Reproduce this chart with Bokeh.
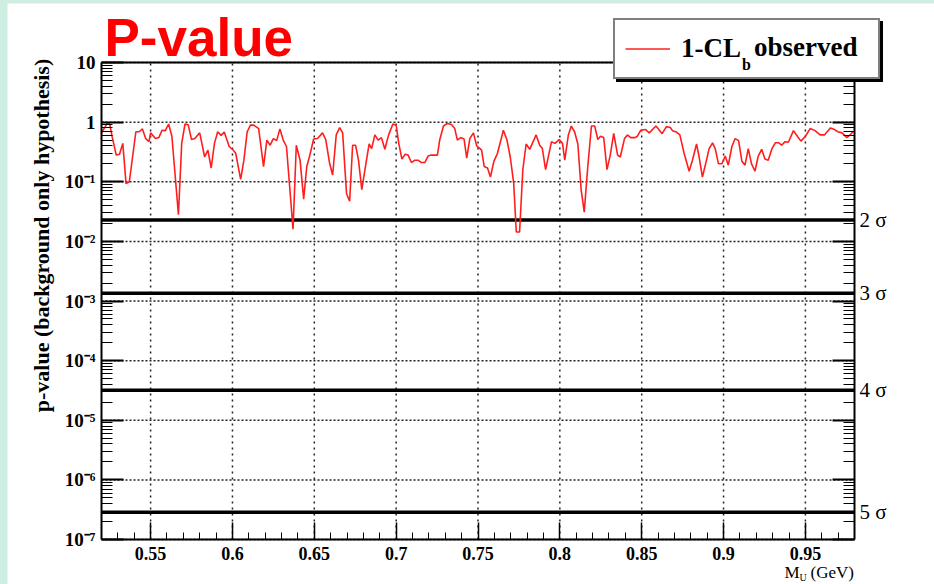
import math
from bokeh.plotting import figure
from bokeh.models import FixedTicker, LogAxis, LinearAxis, Label, Legend, LegendItem, Range1d
from bokeh.layouts import column
from bokeh.embed import file_html
from bokeh.resources import INLINE

# ---- data ----
m_u = [0.520, 0.5235, 0.525, 0.5265, 0.529, 0.531, 0.533, 0.535, 0.537, 0.541, 0.543, 0.545, 0.547,
       0.549, 0.550, 0.553, 0.555, 0.557, 0.559, 0.561, 0.563, 0.567, 0.569, 0.571, 0.573, 0.575,
       0.577, 0.580, 0.583, 0.585, 0.587, 0.589, 0.591, 0.593, 0.595, 0.598, 0.600, 0.602, 0.605,
       0.607, 0.609, 0.611, 0.613, 0.616, 0.619, 0.621, 0.623, 0.625, 0.627, 0.629, 0.631, 0.633,
       0.637, 0.639, 0.6413, 0.6435, 0.6454, 0.647, 0.6496, 0.652, 0.655, 0.657, 0.6594, 0.6612,
       0.6634, 0.6655, 0.6673, 0.6697, 0.6716, 0.6734, 0.6752, 0.677, 0.679, 0.6815, 0.6835, 0.685,
       0.687, 0.689, 0.691, 0.6931, 0.6953, 0.698, 0.700, 0.7016, 0.7035, 0.7055, 0.7073, 0.7093,
       0.7114, 0.7134, 0.7154, 0.7175, 0.7195, 0.7215, 0.7252, 0.7266, 0.7289, 0.7313, 0.7338,
       0.7358, 0.7374, 0.7394, 0.7415, 0.7431, 0.745, 0.7472, 0.7492, 0.7512, 0.7522, 0.7538,
       0.7558, 0.7576, 0.7597, 0.7619, 0.7655, 0.7677, 0.7697, 0.7718, 0.7734, 0.7754, 0.7774,
       0.7794, 0.7816, 0.7855, 0.7877, 0.7893, 0.7913, 0.7949, 0.797, 0.7996, 0.8016, 0.803,
       0.8052, 0.807, 0.809, 0.811, 0.813, 0.8149, 0.817, 0.8193, 0.8213, 0.8232, 0.8248, 0.8268,
       0.8288, 0.8308, 0.8329, 0.8353, 0.8369, 0.8395, 0.8413, 0.8433, 0.8459, 0.8474, 0.8494,
       0.8524, 0.8546, 0.8587, 0.8625, 0.8651, 0.8675, 0.8688, 0.8712, 0.8733, 0.8759, 0.879,
       0.881, 0.8835, 0.8851, 0.8871, 0.8896, 0.8912, 0.8933, 0.8949, 0.8969, 0.899, 0.901,
       0.9029, 0.9051, 0.9071, 0.9092, 0.9112, 0.9131, 0.9151, 0.9171, 0.9192, 0.9212, 0.9233,
       0.9253, 0.9273, 0.9296, 0.9316, 0.9337, 0.9355, 0.9376, 0.9396, 0.9427, 0.9453, 0.9473,
       0.950, 0.9529, 0.9559, 0.959, 0.9616, 0.9653, 0.9678, 0.9698, 0.9724, 0.9753, 0.9773, 0.979]
p_obs = [0.66, 0.95, 0.93, 0.57, 0.28, 0.29, 0.44, 0.093, 0.10, 0.69, 0.69, 0.77, 0.53,
         0.47, 0.66, 0.53, 0.55, 0.73, 0.72, 0.93, 0.58, 0.028, 0.44, 0.93, 0.90, 0.51,
         0.53, 0.66, 0.26, 0.34, 0.17, 0.44, 0.69, 0.60, 0.68, 0.39, 0.35, 0.30, 0.11,
         0.23, 0.69, 0.89, 0.89, 0.78, 0.18, 0.50, 0.41, 0.53, 0.49, 0.77, 0.50, 0.39,
         0.016, 0.41, 0.23, 0.051, 0.18, 0.26, 0.52, 0.53, 0.66, 0.51, 0.20, 0.13,
         0.61, 0.81, 0.66, 0.063, 0.047, 0.41, 0.41, 0.23, 0.074, 0.20, 0.43, 0.36,
         0.61, 0.50, 0.55, 0.35, 0.60, 0.93, 0.89, 0.44, 0.24, 0.29, 0.28, 0.21,
         0.23, 0.23, 0.21, 0.21, 0.27, 0.28, 0.28, 0.50, 0.86, 0.95, 0.91,
         0.78, 0.50, 0.55, 0.52, 0.25, 0.53, 0.66, 0.40, 0.36, 0.34, 0.18,
         0.17, 0.12, 0.22, 0.30, 0.73, 0.50, 0.26, 0.095, 0.0144, 0.0144, 0.16,
         0.43, 0.35, 0.61, 0.41, 0.36, 0.16, 0.47, 0.44, 0.51, 0.44, 0.23,
         0.61, 0.86, 0.69, 0.43, 0.074, 0.031, 0.17, 0.86, 0.86, 0.51, 0.58, 0.55,
         0.16, 0.28, 0.65, 0.28, 0.26, 0.53, 0.61, 0.55, 0.55, 0.58, 0.73,
         0.75, 0.66, 0.86, 0.64, 0.84, 0.81, 0.72, 0.68, 0.61, 0.30, 0.15,
         0.23, 0.43, 0.26, 0.12, 0.23, 0.36, 0.45, 0.36, 0.20, 0.20, 0.27,
         0.19, 0.39, 0.53, 0.49, 0.22, 0.19, 0.36, 0.20, 0.15, 0.27, 0.35,
         0.24, 0.23, 0.36, 0.45, 0.45, 0.41, 0.47, 0.46, 0.72, 0.57, 0.48,
         0.58, 0.78, 0.72, 0.61, 0.61, 0.80, 0.75, 0.69, 0.66, 0.55, 0.61, 0.69]

x_ticks = [0.55, 0.6, 0.65, 0.7, 0.75, 0.8, 0.85, 0.9, 0.95]
x_tick_labels = ["0.55", "0.6", "0.65", "0.7", "0.75", "0.8", "0.85", "0.9", "0.95"]
x_minor = [0.53, 0.54, 0.56, 0.57, 0.58, 0.59, 0.61, 0.62, 0.63, 0.64, 0.66, 0.67, 0.68, 0.69,
           0.71, 0.72, 0.73, 0.74, 0.76, 0.77, 0.78, 0.79, 0.81, 0.82, 0.83, 0.84, 0.86, 0.87,
           0.88, 0.89, 0.91, 0.92, 0.93, 0.94, 0.96, 0.97]
y_ticks = [1e-7, 1e-6, 1e-5, 1e-4, 1e-3, 1e-2, 1e-1, 1, 10]
y_tick_labels = ["10⁻⁷", "10⁻⁶", "10⁻⁵", "10⁻⁴", "10⁻³", "10⁻²", "10⁻¹", "1", "10"]
y_minor = [m * 10.0 ** k for k in range(-7, 1) for m in range(2, 10)]

sigma_names = ["2 σ", "3 σ", "4 σ", "5 σ"]
sigma_p = [2.275e-2, 1.35e-3, 3.17e-5, 2.87e-7]

X0, X1 = 0.52, 0.98      # plot box x limits
Y0, Y1 = 1e-7, 10.0      # plot box y limits

# page-pixel helpers for text placement (plot box: x 101..854, y 62..539)
def sx(px):
    return X0 + (px - 101) * (X1 - X0) / 753.0

def sy(py):
    return 10 ** (1 - (py - 62) * 8.0 / 477.0)

SERIF = "Liberation Serif"

# the frame covers the whole canvas; the plot box is drawn with fixed-location axes
p = figure(width=927, height=581, x_range=Range1d(sx(7), sx(934)), y_range=Range1d(sy(584), sy(3)),
           y_axis_type="log", output_backend="svg", toolbar_location=None, title=None,
           min_border_left=0, min_border_right=0, min_border_top=0, min_border_bottom=0)
p.margin = (3, 0, 0, 7)
p.background_fill_color = "white"
p.border_fill_color = "white"
p.outline_line_color = None
p.xgrid.visible = False
p.ygrid.visible = False

# grid (dotted) through the scales
p.segment(x0=x_ticks, y0=[Y0] * len(x_ticks), x1=x_ticks, y1=[Y1] * len(x_ticks),
          line_color="#222222", line_width=1.5, line_dash="2 4")
p.segment(x0=[X0] * len(y_ticks), y0=y_ticks, x1=[X1] * len(y_ticks), y1=y_ticks,
          line_color="#222222", line_width=1.5, line_dash="2 2")

# sigma lines
p.segment(x0=[X0] * len(sigma_p), y0=sigma_p, x1=[X1] * len(sigma_p), y1=sigma_p,
          line_color="black", line_width=3.5)

# data line
r = p.line(m_u, p_obs, line_color="#ff1e1e", line_width=1.6)

# bottom axis
xa = p.xaxis[0]
xa.fixed_location = Y0
xa.bounds = (X0, X1)
xa.ticker = FixedTicker(ticks=x_ticks, minor_ticks=x_minor)
xa.major_label_overrides = dict(zip(x_ticks, x_tick_labels))
xa.major_tick_in = 17
xa.major_tick_out = 0
xa.minor_tick_in = 7
xa.minor_tick_out = 0
xa.major_tick_line_width = 1.5
xa.axis_line_width = 2
xa.major_label_text_font = SERIF
xa.major_label_text_font_style = "bold"
xa.major_label_text_font_size = "18px"
xa.major_label_text_color = "black"
xa.major_label_standoff = 7

# left axis
ya = p.yaxis[0]
ya.fixed_location = X0
ya.bounds = (Y0, Y1)
ya.ticker = FixedTicker(ticks=y_ticks, minor_ticks=y_minor)
ya.major_label_overrides = dict(zip(y_ticks, y_tick_labels))
ya.major_tick_in = 22
ya.major_tick_out = 0
ya.minor_tick_in = 11
ya.minor_tick_out = 0
ya.major_tick_line_width = 2
ya.axis_line_width = 2
ya.major_label_text_font = SERIF
ya.major_label_text_font_style = "bold"
ya.major_label_text_font_size = "19px"
ya.major_label_text_color = "black"
ya.major_label_standoff = 6

# right mirrored axis
ra = LogAxis(fixed_location=X1, bounds=(Y0, Y1),
             ticker=FixedTicker(ticks=y_ticks, minor_ticks=y_minor),
             major_label_overrides={t: "" for t in y_ticks},
             major_tick_in=22, major_tick_out=0, minor_tick_in=11, minor_tick_out=0,
             major_tick_line_width=2, axis_line_width=2, major_label_text_font_size="1px")
p.add_layout(ra, "right")

# top frame line
ta = LinearAxis(fixed_location=Y1, bounds=(X0, X1), ticker=FixedTicker(ticks=x_ticks),
                major_label_overrides={t: "" for t in x_ticks},
                major_tick_line_color=None, minor_tick_line_color=None,
                axis_line_width=2, major_label_text_font_size="1px")
p.add_layout(ta, "above")

# sigma labels
for name, sp in zip(sigma_names, sigma_p):
    p.add_layout(Label(x=sx(859), y=sp, text=name, text_font=SERIF, text_font_size="21px",
                       text_color="black", text_align="left", text_baseline="middle"))

# legend (shadow + box); location relative to frame bottom-left (page 7, 584)
common = dict(glyph_width=45, glyph_height=37, label_height=37, label_width=187,
              label_standoff=11, padding=10, margin=0, spacing=0,
              label_text_font=SERIF, label_text_font_style="bold", label_text_font_size="27px",
              border_line_width=2)
shadow = Legend(items=[LegendItem(label=" ", renderers=[r])], location=(609, 502),
                background_fill_color="black", background_fill_alpha=1.0,
                border_line_color="black", label_text_color="black", **common)
legend = Legend(items=[LegendItem(label="1-CL", renderers=[r])], location=(606, 505),
                background_fill_color="white", background_fill_alpha=1.0,
                border_line_color="black", label_text_color="black", **common)
p.add_layout(shadow)
p.add_layout(legend)

# rest of the legend text: transparent, glyph-less legends drawn on top
text_only = dict(glyph_width=0, label_standoff=0, padding=0, margin=0, spacing=0,
                 background_fill_alpha=0.0, border_line_color=None,
                 label_text_font=SERIF, label_text_font_style="bold", label_text_color="black")
sub_b = Legend(items=[LegendItem(label="b", renderers=[r])], location=(735, 508),
               glyph_height=22, label_height=22, label_text_font_size="16px", **text_only)
obs = Legend(items=[LegendItem(label="observed", renderers=[r])], location=(747, 519),
             glyph_height=36, label_height=36, label_text_font_size="27px", **text_only)
p.add_layout(sub_b)
p.add_layout(obs)

# title
p.add_layout(Label(x=sx(104), y=sy(37), text="P-value", text_font="Liberation Sans",
                   text_font_style="bold", text_font_size="53px", text_color="#ff0000",
                   text_baseline="middle"))

# y axis title
p.add_layout(Label(x=sx(41), y=sy(235), text="p-value (background only hypothesis)",
                   angle=math.pi / 2, text_font=SERIF, text_font_style="bold",
                   text_font_size="22px", text_color="black",
                   text_align="center", text_baseline="middle"))

# x axis title
p.add_layout(Label(x=sx(784), y=sy(572), text="M", text_font=SERIF, text_font_size="17px",
                   text_color="black", text_baseline="middle"))
p.add_layout(Label(x=sx(799), y=sy(577), text="U", text_font=SERIF, text_font_size="10px",
                   text_color="black", text_baseline="middle"))
p.add_layout(Label(x=sx(810), y=sy(572), text="(GeV)", text_font=SERIF, text_font_size="17px",
                   text_color="black", text_baseline="middle"))

layout = column(p, styles={"background-color": "#cdeee0"})
open("out.html", "w").write(file_html(layout, INLINE))
